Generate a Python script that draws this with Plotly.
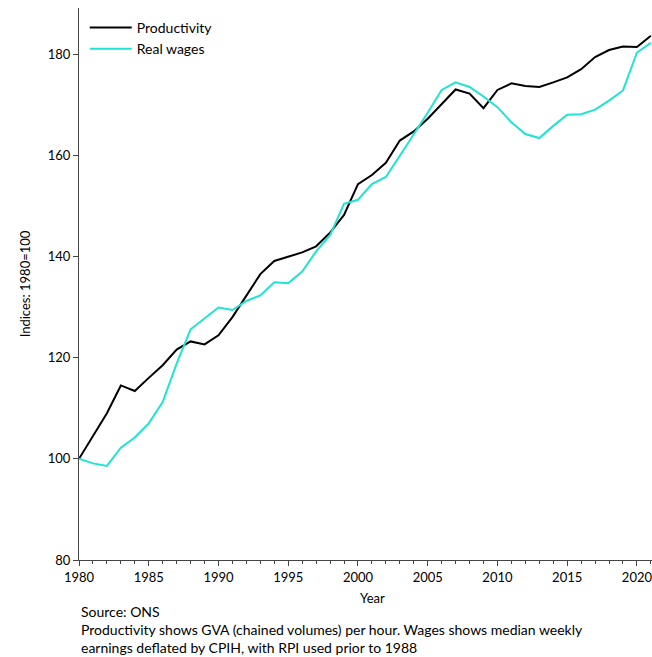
import plotly.graph_objects as go

years = list(range(1980, 2022))
productivity = [100, 104.5, 109, 114.5, 113.4, 116, 118.5, 121.6, 123.2, 122.6,
                124.4, 128, 132.2, 136.5, 139.1, 140, 140.8, 142, 144.7, 148.2,
                154.3, 156.1, 158.5, 162.9, 164.7, 167.2, 170, 173, 172.2, 169.3,
                172.9, 174.2, 173.7, 173.5, 174.4, 175.4, 177, 179.4, 180.8, 181.5,
                181.4, 183.6]
real_wages = [100, 99.1, 98.6, 102.2, 104.2, 107, 111.2, 118.8, 125.6, 127.8,
              129.9, 129.4, 131.2, 132.3, 134.9, 134.7, 137, 141, 144.2, 150.4,
              151.2, 154.3, 155.7, 159.9, 164.1, 168.4, 172.9, 174.4, 173.5, 171.6,
              169.5, 166.5, 164.2, 163.4, 165.8, 168, 168.1, 169, 170.8, 172.8,
              180.3, 182.2]

FONT = "Lato, 'Open Sans', sans-serif"

fig = go.Figure()
fig.add_trace(go.Scatter(x=years, y=productivity, mode="lines", name="Productivity",
                         line=dict(color="#000000", width=2)))
fig.add_trace(go.Scatter(x=years, y=real_wages, mode="lines", name="Real wages",
                         line=dict(color="#1fe3d3", width=2)))

fig.update_layout(
    width=652, height=657,
    margin=dict(l=79, r=0, t=8, b=97, autoexpand=False),
    paper_bgcolor="white", plot_bgcolor="white",
    font=dict(family=FONT, size=13, color="black"),
    showlegend=True,
    legend=dict(x=0.01, y=1 - 4/552, xanchor="left", yanchor="top",
                bgcolor="rgba(0,0,0,0)", font=dict(size=14),
                tracegroupgap=0, itemwidth=42),
    xaxis=dict(range=[1980, 2021.08], showgrid=False, zeroline=False,
               showline=True, linecolor="#444", linewidth=1,
               tickmode="array", tickvals=list(range(1980, 2025, 5)),
               ticks="outside", ticklen=5, tickcolor="#444",
               ticklabeloverflow="allow",
               minor=dict(dtick=1, tick0=1980, ticks="outside", ticklen=3, tickcolor="#444"),
               tickfont=dict(size=13), automargin=False),
    yaxis=dict(range=[80, 189.1], showgrid=False, zeroline=False,
               showline=True, linecolor="#444", linewidth=1,
               tickvals=[80, 100, 120, 140, 160, 180],
               ticks="outside", ticklen=5, tickcolor="#444",
               tickfont=dict(size=13), automargin=False,
               title=dict(text="Indices: 1980=100", font=dict(size=13), standoff=14)),
)

fig.add_annotation(text="Year", xref="paper", yref="paper", x=(372-79)/573, y=-0.068,
                   showarrow=False, xanchor="center", yanchor="middle", font=dict(size=13))
notes = ["Source: ONS",
         "Productivity shows GVA (chained volumes) per hour. Wages shows median weekly",
         "earnings deflated by CPIH, with RPI used prior to 1988"]
fig.add_annotation(text="<br>".join(notes), xref="paper", yref="paper", x=0, xanchor="left",
                   y=(560 - 601) / 552, yanchor="top", align="left",
                   showarrow=False, font=dict(size=14))

fig.write_html("out.html", config={"displayModeBar": False},
               post_script="document.body.style.margin='0';document.body.style.overflow='hidden';")
